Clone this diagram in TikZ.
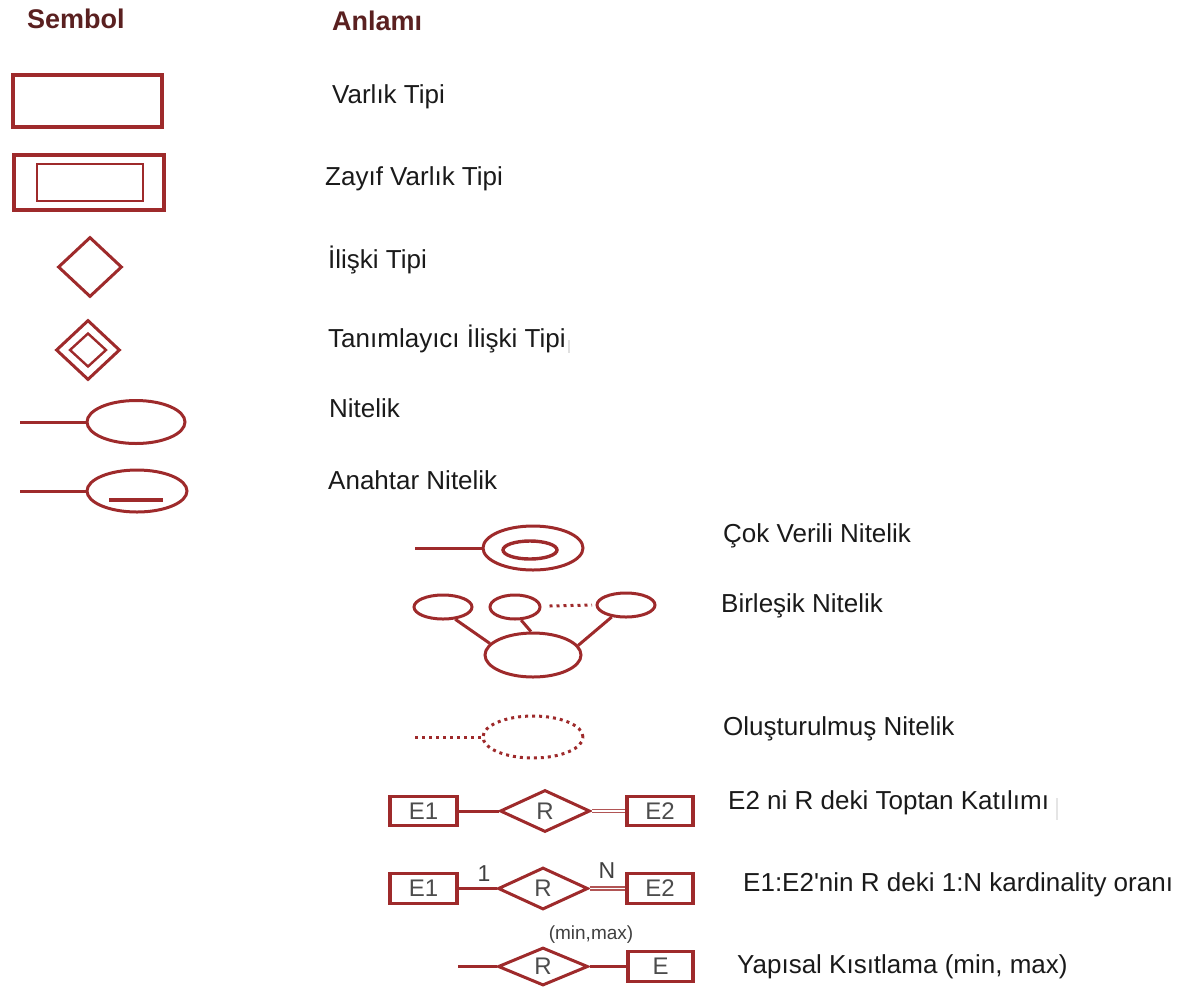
\documentclass[tikz,border=0pt]{standalone}
\usepackage{fontspec}
\setmainfont{Liberation Sans}[Ligatures=TeXOff]
\usetikzlibrary{shapes.geometric}
\definecolor{er}{HTML}{9E2A2B}
\definecolor{hdr}{HTML}{5A2020}
\definecolor{txt}{HTML}{1A1A1A}
\begin{document}
\begin{tikzpicture}[x=1pt,y=-1pt,
  hdrtext/.style={anchor=base west, inner sep=0pt, text=hdr,
    font=\fontsize{27}{30}\selectfont\bfseries},
  lbl/.style={anchor=base west, inner sep=0pt, text=txt,
    font=\fontsize{26}{29}\selectfont},
  boxtext/.style={text=black!70, font=\fontsize{24}{26}\selectfont},
  entbox/.style={draw=er, line width=3.2pt, rectangle, inner sep=0pt, boxtext},
  rel/.style={draw=er, line width=3pt, diamond, inner sep=0pt, boxtext},
  attr/.style={draw=er, line width=3pt, ellipse, inner sep=0pt},
  link/.style={draw=er, line width=3pt},
  dbl/.style={draw=er!80, double=white, double distance=1.6pt, line width=1.5pt},
  dots/.style={draw=er, line width=3pt, dash pattern=on 3pt off 4pt},
  card/.style={inner sep=0pt, text=black!75, font=\fontsize{23}{24}\selectfont}
]
\useasboundingbox (0,0) rectangle (1178,989);

% column headings
\node[hdrtext] (hsym) at (27,28) {Sembol};
\node[hdrtext] (hmean) at (332,30) {Anlamı};

% entity type
\node[entbox, minimum width=149, minimum height=52] (ent) at (87.5,101) {};
\node[lbl] (tent) at (332,103) {Varlık Tipi};

% weak entity type
\node[entbox, minimum width=150, minimum height=55] (weakout) at (89,182.5) {};
\node[entbox, line width=2.6pt, minimum width=106, minimum height=37] (weakin) at (90,182.5) {};
\node[lbl] (tweak) at (325,185) {Zayıf Varlık Tipi};

% relationship type
\node[rel, minimum width=64, minimum height=60] (relt) at (90,267) {};
\node[lbl] (trel) at (328,268) {İlişki Tipi};

% identifying relationship type
\node[rel, minimum width=64, minimum height=60] (idout) at (88,350) {};
\node[rel, line width=2.4pt, minimum width=37, minimum height=34] (idin) at (88,350) {};
\node[lbl] (tid) at (328,347) {Tanımlayıcı İlişki Tipi};
\draw[black!12, line width=1.2pt] (569,340) -- (569,353);

% attribute
\coordinate (attrend) at (20,422);
\node[attr, minimum width=98, minimum height=43] (attr) at (136,422) {};
\draw[link] (attrend) -- (attr.west);
\node[lbl] (tattr) at (329,417) {Nitelik};

% key attribute
\coordinate (keyend) at (20,491);
\node[attr, minimum width=100, minimum height=42] (key) at (137,491) {};
\draw[link] (keyend) -- (key.west);
\draw[er, line width=4.5pt] (109,500) -- (163,500);
\node[lbl] (tkey) at (328,489) {Anahtar Nitelik};

% multivalued attribute
\coordinate (multend) at (415,548);
\node[attr, minimum width=100, minimum height=44] (multout) at (533,548) {};
\node[attr, line width=3.4pt, minimum width=54, minimum height=18] (multin) at (530,550) {};
\draw[link] (multend) -- (multout.west);
\node[lbl] (tmult) at (723,542) {Çok Verili Nitelik};

% composite attribute
\node[attr, minimum width=58, minimum height=24] (compa) at (443,607) {};
\node[attr, minimum width=50, minimum height=24] (compb) at (515,607) {};
\node[attr, minimum width=58, minimum height=24] (compc) at (626,605) {};
\node[attr, minimum width=96, minimum height=44] (compbig) at (533,655) {};
\draw[link] (compa.-45) -- (compbig.165);
\draw[link] (compb.-65) -- (compbig.95);
\draw[link] (compc.-140) -- (compbig.12);
\draw[dots] (compb.east) ++(8,-1) coordinate (gapl) -- (592,605) coordinate (gapr);
\node[lbl] (tcomp) at (721,612) {Birleşik Nitelik};

% derived attribute
\coordinate (derend) at (415,737);
\node[attr, dash pattern=on 3pt off 4pt, minimum width=100, minimum height=42] (der) at (533,737) {};
\draw[dots] (derend) -- (der.west);
\node[lbl] (tder) at (723,735) {Oluşturulmuş Nitelik};

% total participation
\node[entbox, minimum width=67, minimum height=29] (tpe1) at (423.5,811) {E1};
\node[rel, minimum width=90, minimum height=42] (tpr) at (545,811) {R};
\node[entbox, minimum width=66, minimum height=29] (tpe2) at (660,811) {E2};
\draw[link] (tpe1) -- (tpr);
\draw[dbl] (tpr) -- (tpe2);
\node[lbl] (ttp) at (728,809) {E2 ni R deki Toptan Katılımı};
\draw[black!10, line width=1.2pt] (1057,798) -- (1057,820);

% cardinality ratio
\node[entbox, minimum width=67, minimum height=30] (cre1) at (423.5,888.5) {E1};
\node[rel, minimum width=90, minimum height=42] (crr) at (543,888.5) {R};
\node[entbox, minimum width=66, minimum height=30] (cre2) at (660,888.5) {E2};
\draw[link] (cre1) -- (crr);
\draw[dbl] (crr) -- (cre2);
\node[card] (one) at (484,874) {1};
\node[card] (many) at (607,871) {N};
\node[lbl] (tcr) at (743,891) {E1:E2'nin R deki 1:N kardinality oranı};

% structural constraint
\coordinate (scend) at (458,966.5);
\node[rel, minimum width=90, minimum height=38] (scr) at (543,966.5) {R};
\node[entbox, minimum width=65, minimum height=30] (sce) at (660.5,966.5) {E};
\draw[link] (scend) -- (scr);
\draw[link, line width=3.8pt] (scr) -- (sce);
\node[inner sep=0pt, text=black!75, font=\fontsize{19}{20}\selectfont] (mm) at (591,935) {(min,max)};
\node[lbl] (tsc) at (737,973) {Yapısal Kısıtlama (min, max)};
\end{tikzpicture}
\end{document}
